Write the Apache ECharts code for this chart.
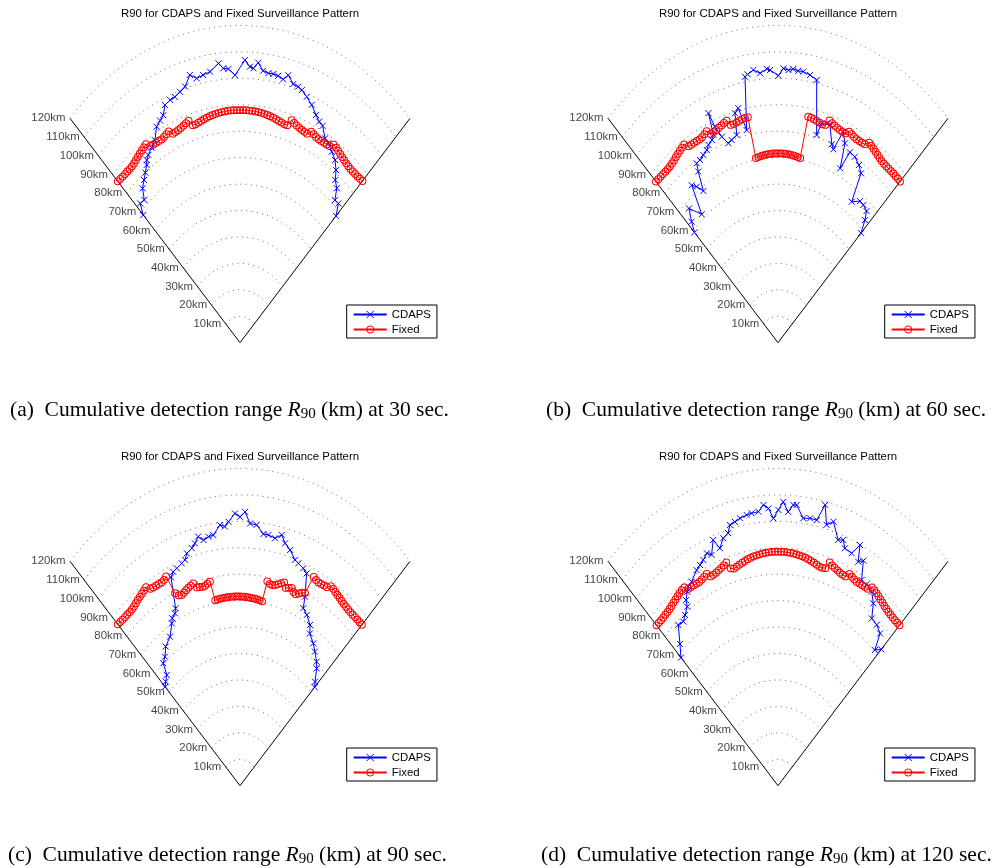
<!DOCTYPE html>
<html>
<head>
<meta charset="utf-8">
<title>R90 for CDAPS and Fixed Surveillance Pattern</title>
<script src="https://cdn.jsdelivr.net/npm/echarts@6/dist/echarts.min.js"></script>
<style>
  html, body { margin: 0; padding: 0; background: #ffffff; }
  #chart { width: 997px; height: 868px; }
</style>
</head>
<body>
<div id="chart"></div>
<script>
// ---- range rings and labels -------------------------------------------
const ringRanges = [10, 20, 30, 40, 50, 60, 70, 80, 90, 100, 110, 120];
const sectorHalfAngle = 45;          // degrees either side of boresight
const titleText = 'R90 for CDAPS and Fixed Surveillance Pattern';
const seriesNames = ['CDAPS', 'Fixed'];
const panelLetters = ['a', 'b', 'c', 'd'];
const panelTimes = [30, 60, 90, 120];   // seconds

// ---- Fixed surveillance pattern: R90 (km) at 1 degree steps ---------------
const fixedAngles = [-45, -44, -43, -42, -41, -40, -39, -38, -37, -36, -35, -34, -33, -32, -31, -30, -29, -28, -27, -26,
  -25, -24, -23, -22, -21, -20, -19, -18, -17, -16, -15, -14, -13, -12, -11, -10, -9, -8, -7, -6, -5, -4, -3, -2, -1,
  0, 1, 2, 3, 4, 5, 6, 7, 8, 9, 10, 11, 12, 13, 14, 15, 16, 17, 18, 19, 20, 21, 22, 23, 24, 25, 26, 27, 28, 29, 30,
  31, 32, 33, 34, 35, 36, 37, 38, 39, 40, 41, 42, 43, 44, 45];

const fixed30 = [86.3, 86.1, 85.9, 85.8, 85.8, 85.7, 85.8, 86.0, 86.4, 86.9, 87.3, 87.7, 88.1, 88.5, 86.8, 86.6, 86.5, 86.4, 86.3, 86.6,
  87.0, 87.5, 85.9, 85.9, 86.1, 86.4, 86.8, 87.3, 87.8, 85.6, 85.5, 85.8, 86.1, 86.4, 86.7, 87.0, 87.2, 87.4, 87.6, 87.7,
  87.8, 87.9, 88.0, 88.0, 88.0,
  88.0,
  88.0, 88.0, 87.9, 87.9, 87.8, 87.7, 87.6, 87.4, 87.2, 87.0, 86.7, 86.4, 86.1, 85.8, 85.5, 85.6, 88.0, 87.4, 86.9, 86.5,
  86.2, 86.0, 85.9, 87.4, 87.0, 86.6, 86.4, 86.4, 86.5, 86.6, 86.8, 88.3, 88.0, 87.6, 87.2, 86.8, 86.4, 86.1, 85.9, 85.8,
  85.8, 85.9, 86.0, 86.2, 86.5];

const fixed60 = [86.2, 86.0, 85.9, 85.8, 85.7, 85.7, 85.8, 86.0, 86.3, 86.8, 87.2, 87.6, 88.0, 88.4, 86.7, 86.5, 86.5, 86.4, 86.3, 86.5,
  87.0, 87.6, 85.8, 85.9, 86.1, 86.5, 86.9, 87.4, 87.8, 85.7, 85.6, 85.8, 86.1, 86.4, 86.6, 86.6,
  70.7, 70.9, 71.1, 71.2, 71.4, 71.5, 71.5, 71.6, 71.6, 71.6, 71.6, 71.6, 71.5, 71.5, 71.4, 71.2, 71.1, 70.9, 70.7,
  86.8, 86.7, 86.4, 86.1, 85.8, 85.5, 85.7, 87.9, 87.3, 86.8, 86.5, 86.2, 86.0, 86.0, 87.4, 87.0, 86.6, 86.4, 86.4, 86.5,
  86.7, 88.3, 87.9, 87.5, 87.1, 86.7, 86.3, 86.0, 85.9, 85.9, 85.9, 86.0, 86.1, 86.1, 86.2, 86.2];

const fixed90 = [86.3, 86.1, 85.9, 85.8, 85.8, 85.7, 85.8, 86.0, 86.4, 86.9, 87.2, 87.6, 88.0, 88.5, 86.9, 86.6, 86.5, 86.4, 86.3, 86.6,
  87.3,
  79.7, 78.2, 77.8, 78.2, 78.7, 79.2, 79.6, 80.0, 78.0, 77.8, 77.5, 77.6, 78.1, 78.6,
  71.2, 71.3, 71.4, 71.5, 71.5, 71.6, 71.6, 71.6, 71.6, 71.6, 71.6, 71.5, 71.5, 71.4, 71.3, 71.2, 71.1, 71.0, 70.8, 70.6,
  78.5, 77.8, 77.6, 77.9, 78.6, 79.3, 80.0, 78.2, 78.7, 79.1, 78.0, 77.6, 78.4, 79.3, 79.8,
  87.1, 86.6, 86.3, 86.4, 86.6, 86.7, 88.1, 87.8, 87.4, 87.0, 86.7, 86.4, 86.1, 85.9, 85.8, 85.7, 85.7, 85.8, 85.9, 86.0, 86.1];

const fixed120 = [85.8, 85.7, 85.6, 85.6, 85.7, 85.8, 86.0, 86.3, 86.7, 87.1, 87.5, 87.9, 88.2, 88.4, 86.9, 86.8, 86.7, 86.6, 86.5, 86.8,
  87.2, 87.7, 86.0, 86.1, 86.3, 86.7, 87.1, 87.6, 88.3, 85.5, 85.0, 85.4, 85.8, 86.2, 86.6, 87.0, 87.3, 87.6, 87.8, 88.0,
  88.2, 88.3, 88.4, 88.5, 88.5,
  88.5,
  88.5, 88.5, 88.4, 88.3, 88.2, 88.0, 87.8, 87.6, 87.3, 87.0, 86.6, 86.2, 85.8, 85.4, 85.3, 85.6, 88.3, 87.6, 87.1, 86.7,
  86.3, 86.1, 86.0, 87.7, 87.2, 86.8, 86.5, 86.6, 86.7, 86.8, 86.9, 88.4, 88.2, 87.9, 87.5, 87.1, 86.7, 86.3, 86.0, 85.8,
  85.7, 85.6, 85.6, 85.7, 85.8];

// ---- CDAPS: bearing (deg) and R90 (km) --------------------------------
const cdapsAngles30 = [-45.0, -43.4, -41.5, -39.8, -37.9, -36.3, -34.7, -34.0, -32.8, -30.9, -29.0, -27.0, -25.4, -24.0, -22.6,
  -20.8, -19.3, -17.5, -15.8, -13.9, -12.2, -10.3, -8.3, -5.8, -4.6, -3.2, -1.4, 1.3, 2.7, 3.7, 4.9, 6.4, 7.9, 9.3, 10.7,
  12.2, 13.4, 15.2, 16.7, 17.9, 19.7, 21.7, 23.8, 25.3, 26.7, 28.8, 30.3, 32.4, 34.5, 36.3, 37.7, 39.6, 41.3, 43.0, 45.0];
const cdapsRanges30 = [68.3, 72.5, 72.1, 76.0, 78.0, 79.8, 81.8, 83.3, 84.5, 86.0, 87.6, 91.7, 93.0, 94.2, 97.4,
  98.2, 98.5, 99.5, 100.7, 104.3, 102.3, 102.9, 103.6, 106.2, 104.1, 103.7, 101.2, 106.9, 104.5, 104.0, 106.3, 103.5, 102.9, 103.0, 102.7,
  101.9, 104.0, 101.4, 101.1, 100.4, 98.8, 96.8, 94.1, 92.5, 91.8, 88.2, 87.4, 85.5, 83.8, 81.0, 77.8, 75.8, 71.8, 72.0, 67.8];

const cdapsAngles60 = [-45.0, -43.3, -41.2, -38.1, -35.9, -34.5, -33.0, -31.6, -30.9, -29.4, -27.7, -26.0, -24.9, -23.3, -22.3,
  -21.8, -21.1, -19.8, -18.2, -16.8, -14.7, -13.9, -12.6, -11.0, -9.3, -8.5, -6.8, -5.0, -3.1, -2.2, 0.1, 1.5, 2.9, 4.2, 5.6,
  7.0, 9.0, 11.0, 13.8, 14.7, 17.5, 19.7, 20.7, 22.2, 23.9, 25.2, 26.5, 28.6, 31.0, 32.9, 34.6, 37.4, 39.3, 41.6, 43.1, 45.0];
const cdapsRanges60 = [59.0, 62.9, 67.5, 61.7, 73.5, 71.6, 68.4, 76.0, 79.1, 79.3, 80.2, 81.1, 82.5, 83.5, 85.0,
  93.5, 87.6, 82.8, 79.4, 80.1, 81.2, 89.4, 90.9, 81.9, 101.9, 102.6, 103.9, 102.3, 103.7, 103.2, 101.0, 103.8, 103.2, 103.8, 103.3,
  103.3, 102.5, 101.2, 80.9, 85.8, 86.3, 79.7, 78.2, 86.2, 82.5, 72.9, 80.5, 80.1, 78.4, 76.3, 64.8, 67.4, 67.3, 66.6, 63.5, 58.6];

const cdapsAngles90 = [-45.0, -43.3, -41.1, -39.6, -37.5, -35.2, -31.8, -29.0, -28.1, -26.5, -25.6, -23.6, -22.4, -21.0, -19.1,
  -17.8, -16.8, -15.0, -13.8, -12.5, -11.1, -9.5, -8.0, -5.8, -4.4, -3.3, -1.4, 0.0, 1.4, 2.9, 4.8, 7.0, 8.5, 10.6, 12.4,
  13.8, 15.7, 17.8, 19.1, 21.0, 22.5, 24.4, 25.2, 27.3, 29.9, 31.2, 34.2, 36.4, 39.2, 40.8, 43.6, 45.0];
const cdapsRanges90 = [52.9, 54.1, 55.6, 60.1, 61.5, 64.4, 66.3, 70.2, 71.8, 72.8, 74.4, 86.0, 87.5, 88.1, 89.0,
  89.7, 91.8, 93.0, 94.4, 96.5, 94.7, 95.5, 95.7, 99.1, 98.3, 100.0, 103.0, 101.7, 103.6, 99.3, 99.0, 95.9, 95.9, 95.2, 97.1,
  94.4, 92.6, 89.7, 89.0, 88.1, 86.9, 78.5, 74.2, 72.7, 70.1, 67.3, 65.1, 63.0, 60.5, 58.6, 54.3, 52.7];

const cdapsAngles120 = [-45.0, -42.4, -39.3, -37.3, -35.7, -33.8, -33.2, -31.7, -30.7, -29.2, -26.5, -25.0, -23.6, -22.0, -20.8,
  -19.2, -17.9, -16.3, -14.6, -13.7, -12.2, -10.6, -8.7, -7.3, -5.4, -3.9, -2.6, -1.3, 0.1, 1.4, 2.8, 4.1, 5.0, 7.1, 9.0,
  10.9, 12.5, 13.8, 15.5, 17.9, 19.3, 20.4, 22.7, 24.2, 25.3, 26.6, 28.2, 30.1, 32.5, 34.6, 36.5, 39.0, 41.5, 43.3, 45.0];
const cdapsRanges120 = [68.5, 72.6, 78.6, 78.0, 79.5, 81.5, 83.9, 86.2, 87.6, 88.4, 91.1, 92.1, 93.2, 94.8, 93.4,
  98.4, 94.4, 97.5, 98.7, 101.5, 102.1, 102.9, 103.6, 103.9, 104.1, 106.4, 105.0, 101.1, 104.3, 107.4, 103.7, 106.5, 106.6, 101.9, 102.4,
  102.3, 108.8, 101.6, 103.6, 97.7, 98.5, 95.8, 95.3, 99.8, 93.7, 95.2, 88.3, 88.0, 87.0, 83.8, 78.7, 78.3, 76.9, 70.5, 72.9];

// ---- layout ----------------------------------------------------------
const SANS = '"Liberation Sans", Arial, Helvetica, sans-serif';
const SERIF = '"Liberation Serif", "Times New Roman", Times, serif';
const PX_PER_KM_X = 2.003;   // horizontal pixels per km
const PX_PER_KM_Y = 2.644;   // vertical pixels per km
const X_HALF = 100, Y_MAX = 125;
const BLUE = '#0000ff', RED = '#ff0000';
const X_MARK = 'path://M0,0L10,10M10,0L0,10';

const panels = [
  { apex: [240, 342.7], fixed: fixed30,  ca: cdapsAngles30,  cr: cdapsRanges30,  cap: [10, 410] },
  { apex: [778, 342.7], fixed: fixed60,  ca: cdapsAngles60,  cr: cdapsRanges60,  cap: [546, 410] },
  { apex: [240, 785.7], fixed: fixed90,  ca: cdapsAngles90,  cr: cdapsRanges90,  cap: [8, 855] },
  { apex: [778, 785.7], fixed: fixed120, ca: cdapsAngles120, cr: cdapsRanges120, cap: [541, 855] }
];

const DEG = Math.PI / 180;
// bearing/range -> cross-range / down-range (km)
const toXY = (deg, r) => [r * Math.sin(deg * DEG), r * Math.cos(deg * DEG)];

const grid = [], xAxis = [], yAxis = [], series = [], legend = [], graphic = [];

panels.forEach((p, i) => {
  const [ax, ay] = p.apex;
  grid.push({
    left: ax - X_HALF * PX_PER_KM_X, top: ay - Y_MAX * PX_PER_KM_Y,
    width: 2 * X_HALF * PX_PER_KM_X, height: Y_MAX * PX_PER_KM_Y,
    containLabel: false, outerBoundsMode: 'none'
  });
  xAxis.push({ type: 'value', gridIndex: i, min: -X_HALF, max: X_HALF, show: false });
  yAxis.push({ type: 'value', gridIndex: i, min: 0, max: Y_MAX, show: false });
  const ax_ = { xAxisIndex: i, yAxisIndex: i };

  // dotted range rings across the sector
  ringRanges.forEach(r => {
    const pts = [];
    for (let a = -sectorHalfAngle; a <= sectorHalfAngle + 1e-9; a += 0.5) pts.push(toXY(a, r));
    series.push(Object.assign({
      type: 'line', data: pts, symbol: 'none', silent: true, z: 1,
      lineStyle: { color: '#6e6e6e', width: 1, type: [1, 4.3] }
    }, ax_));
  });

  // sector edges
  const rMax = ringRanges[ringRanges.length - 1];
  series.push(Object.assign({
    type: 'line', symbol: 'none', silent: true, z: 2,
    data: [toXY(-sectorHalfAngle, rMax), [0, 0], toXY(sectorHalfAngle, rMax)],
    lineStyle: { color: '#000', width: 1 }
  }, ax_));

  // ring labels along the left edge
  series.push(Object.assign({
    type: 'scatter', silent: true, z: 3, symbolSize: 1,
    itemStyle: { color: 'rgba(0,0,0,0)' },
    data: ringRanges.map(r => ({ name: r + 'km', value: toXY(-sectorHalfAngle, r) })),
    label: { show: true, position: 'left', distance: 4, formatter: '{b}',
             fontSize: 11.4, fontFamily: SANS, color: '#111' }
  }, ax_));

  // CDAPS
  series.push(Object.assign({
    name: seriesNames[0], type: 'line', z: 4,
    data: p.ca.map((a, k) => toXY(a, p.cr[k])),
    symbol: X_MARK, symbolSize: 6,
    itemStyle: { color: 'rgba(0,0,255,0)', borderColor: BLUE, borderWidth: 1 },
    lineStyle: { color: BLUE, width: 1 }
  }, ax_));

  // Fixed pattern
  series.push(Object.assign({
    name: seriesNames[1], type: 'line', z: 5,
    data: fixedAngles.map((a, k) => toXY(a, p.fixed[k])),
    symbol: 'circle', symbolSize: 6.8,
    itemStyle: { color: 'rgba(255,0,0,0)', borderColor: RED, borderWidth: 1 },
    lineStyle: { color: RED, width: 1 }
  }, ax_));

  legend.push({
    orient: 'vertical', left: ax + 106.7, top: ay - 37.7,
    data: seriesNames, selectedMode: false,
    itemWidth: 33, itemHeight: 9, itemGap: 4, padding: [4, 6, 3, 6],
    itemStyle: { borderWidth: 1 },
    borderColor: '#000', borderWidth: 1, borderRadius: 0, backgroundColor: '#fff',
    textStyle: { fontSize: 11.4, fontFamily: SANS, color: '#000' }
  });

  graphic.push({
    type: 'text', x: ax, y: ay - 329.2, silent: true,
    style: { text: titleText, fontSize: 11.4, fontFamily: SANS, fill: '#000', align: 'center', verticalAlign: 'middle' }
  });

  graphic.push({
    type: 'text', x: p.cap[0], y: p.cap[1], silent: true,
    style: {
      text: '(' + panelLetters[i] + ')  Cumulative detection range {i|R}{s|90} (km) at ' + panelTimes[i] + ' sec.',
      fontSize: 21.5, fontFamily: SERIF, fill: '#000', verticalAlign: 'middle',
      rich: {
        i: { fontSize: 21.5, fontFamily: SERIF, fontStyle: 'italic', fill: '#000' },
        s: { fontSize: 15, fontFamily: SERIF, fill: '#000', padding: [9, 0, 0, 0] }
      }
    }
  });
});

const chart = echarts.init(document.getElementById('chart'), null, { renderer: 'canvas' });
chart.setOption({
  backgroundColor: '#ffffff',
  animation: false,
  grid, xAxis, yAxis, series, legend, graphic
});
</script>
</body>
</html>
